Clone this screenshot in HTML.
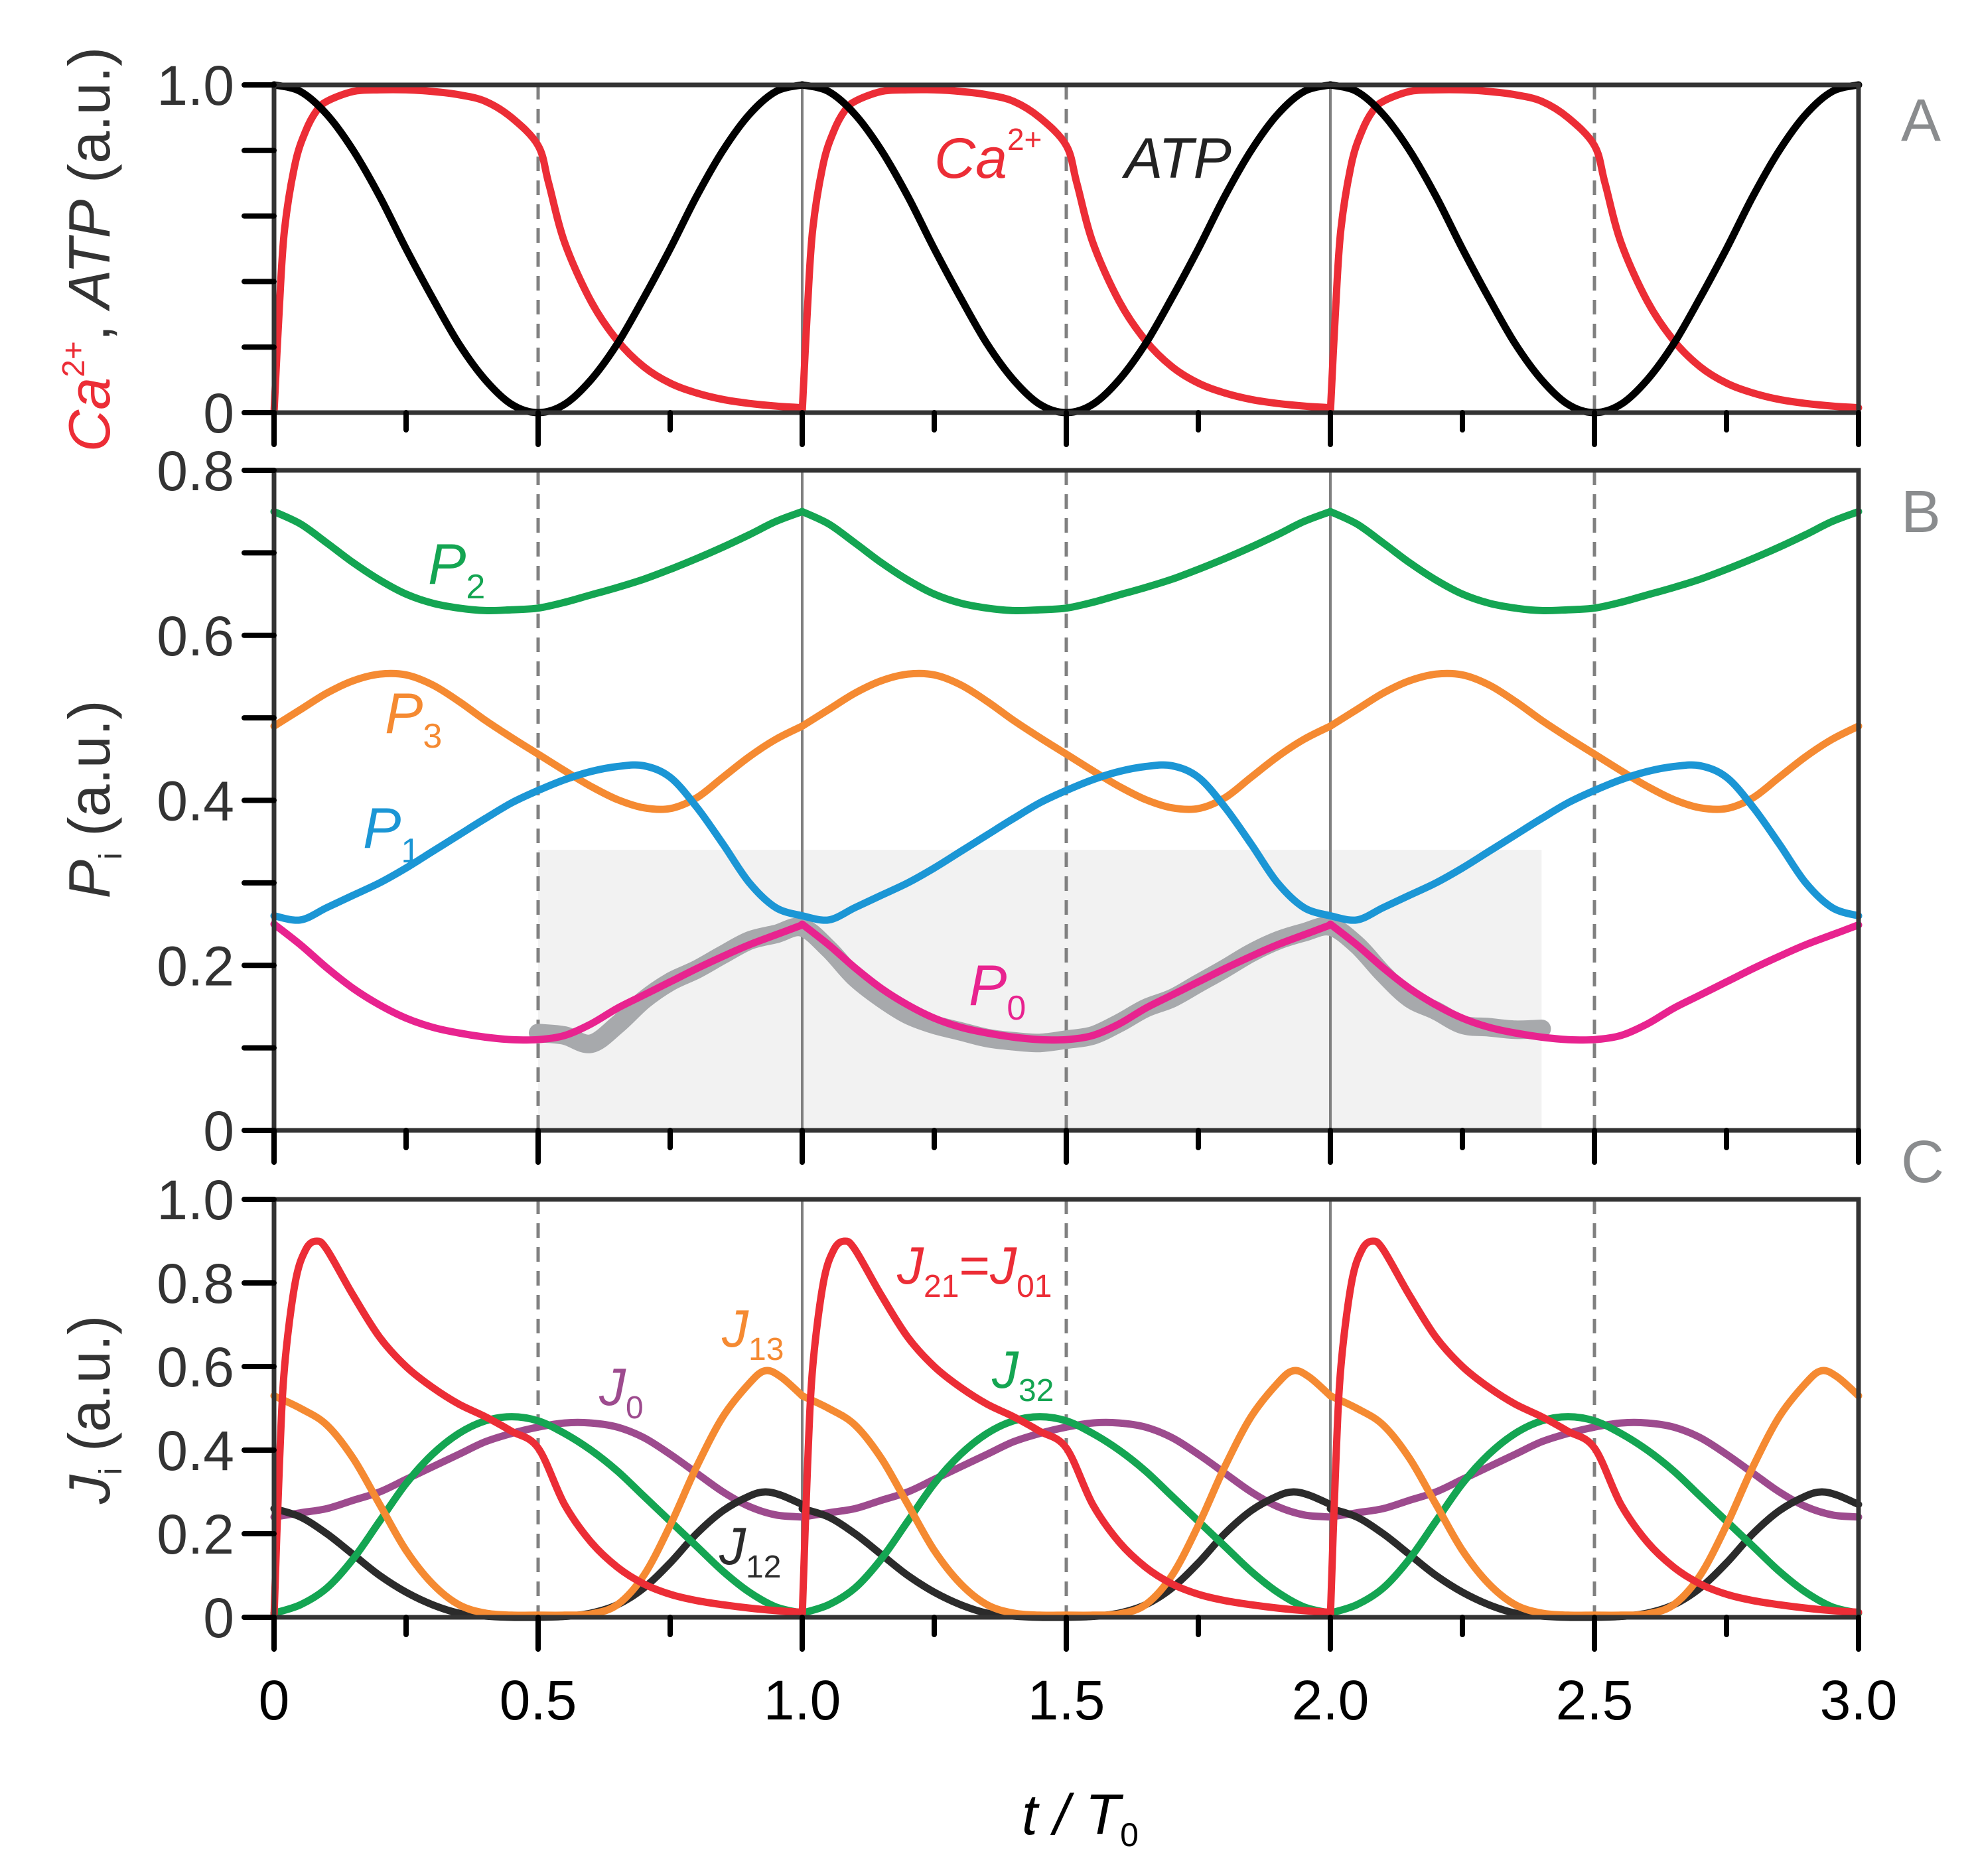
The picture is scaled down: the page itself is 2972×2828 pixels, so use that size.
<!DOCTYPE html>
<html><head><meta charset="utf-8">
<style>
html,body{margin:0;padding:0;background:#fff;}
svg{display:block;}
text{font-family:"Liberation Sans",Arial,sans-serif;}
</style></head>
<body>
<svg id="chart" width="2972" height="2828" viewBox="0 0 2972 2828" xmlns="http://www.w3.org/2000/svg"></svg>
<script>
// ---------- data (one period, repeated over 3 periods) ----------
const periods = [0, 1, 2];
const xTickLabels = ["0", "0.5", "1.0", "1.5", "2.0", "2.5", "3.0"];
const xTickValues = [0, 0.5, 1, 1.5, 2, 2.5, 3];
const tGrid = [0,.05,.1,.15,.2,.25,.3,.35,.4,.45,.5,.55,.6,.65,.7,.75,.8,.85,.9,.95,1];

const caT   = [0,.01,.02,.04,.06,.08,.1,.15,.2,.25,.3,.35,.4,.45,.5,.52,.55,.6,.65,.7,.75,.8,.85,.9,.95,1];
const caV   = [0,.32,.56,.76,.86,.92,.95,.98,.985,.985,.98,.97,.95,.9,.815,.7,.52,.34,.22,.14,.09,.06,.04,.028,.02,.015];
const atpV  = [1,.98,.91,.8,.66,.5,.35,.21,.1,.025,0,.025,.1,.21,.35,.5,.66,.8,.91,.98,1];

const p2V = [.75,.735,.712,.688,.667,.65,.639,.633,.63,.631,.633,.64,.649,.658,.668,.68,.693,.707,.722,.738,.75];
const p3V = [.49,.51,.53,.545,.553,.552,.54,.52,.497,.476,.456,.436,.417,.401,.391,.39,.403,.428,.453,.474,.49];
const p1V = [.26,.255,.27,.285,.3,.318,.338,.358,.378,.397,.412,.425,.435,.441,.442,.428,.392,.347,.3,.27,.26];
const p0V = [.25,.225,.197,.172,.152,.136,.125,.118,.113,.11,.11,.115,.129,.148,.164,.18,.196,.211,.225,.237,.249];

const expT = [.5,.55,.6,.65,.7,.75,.8,.85,.9,.95,1,1.05,1.1,1.15,1.2,1.25,1.3,1.35,1.4,1.45,1.5,1.55,1.6,1.65,1.7,1.75,1.8,1.85,1.9,1.95,2,2.05,2.1,2.15,2.2,2.25,2.3,2.35,2.4];
const expV = [.118,.115,.105,.128,.158,.18,.195,.213,.23,.238,.246,.22,.185,.16,.14,.128,.12,.112,.108,.106,.11,.115,.13,.148,.16,.178,.196,.215,.23,.24,.247,.225,.19,.16,.145,.128,.125,.122,.123];

const j21T = [0,.01,.02,.04,.06,.08,.1,.15,.2,.25,.3,.35,.4,.45,.5,.55,.6,.65,.7,.75,.8,.85,.9,.95,1];
const j21V = [0,.36,.6,.8,.88,.9,.88,.77,.67,.6,.55,.51,.48,.445,.405,.27,.18,.12,.08,.055,.04,.03,.022,.016,.012];
const j13T = [0,.05,.1,.15,.2,.25,.3,.35,.4,.45,.5,.55,.6,.65,.7,.75,.8,.85,.9,.93,.96,1];
const j13V = [.53,.5,.46,.38,.27,.16,.08,.03,.01,.005,.005,.005,.008,.03,.1,.22,.36,.48,.56,.59,.575,.53];
const j32V = [.01,.03,.07,.14,.23,.32,.39,.44,.47,.48,.47,.44,.4,.35,.29,.23,.17,.11,.06,.025,.01];
const j0V  = [.24,.25,.26,.28,.3,.33,.36,.39,.42,.44,.455,.465,.465,.455,.43,.39,.345,.3,.265,.245,.24];
const j12T = [0,.05,.1,.15,.2,.25,.3,.35,.4,.45,.5,.55,.6,.65,.7,.75,.8,.85,.9,.93,.96,1];
const j12V = [.26,.24,.2,.15,.1,.06,.03,.01,.003,0,0,.002,.01,.03,.07,.13,.2,.255,.29,.3,.292,.27];

// ---------- layout ----------
const NS = "http://www.w3.org/2000/svg";
const svg = document.getElementById("chart");
const X0 = 413, XU = 796;
const xs = t => X0 + t * XU;
const panels = {
  A: {top:128, bot:622, max:1.0},
  B: {top:709, bot:1704, max:0.8},
  C: {top:1808, bot:2438, max:1.0}
};
function ys(p, v){ const P = panels[p]; return P.bot - v / P.max * (P.bot - P.top); }
function mk(tag, attrs, parent){
  const e = document.createElementNS(NS, tag);
  for (const k in attrs) e.setAttribute(k, attrs[k]);
  (parent || svg).appendChild(e);
  return e;
}
function smoothPath(pts){
  let d = "M" + pts[0][0].toFixed(1) + "," + pts[0][1].toFixed(1);
  for (let i = 0; i < pts.length - 1; i++){
    const p0 = pts[i-1] || pts[i], p1 = pts[i], p2 = pts[i+1], p3 = pts[i+2] || p2;
    const c1 = [p1[0] + (p2[0]-p0[0])/6, p1[1] + (p2[1]-p0[1])/6];
    const c2 = [p2[0] - (p3[0]-p1[0])/6, p2[1] - (p3[1]-p1[1])/6];
    d += "C" + c1[0].toFixed(1)+","+c1[1].toFixed(1)+" "+c2[0].toFixed(1)+","+c2[1].toFixed(1)+" "+p2[0].toFixed(1)+","+p2[1].toFixed(1);
  }
  return d;
}
function drawSeries(p, tArr, vArr, color, name, width){
  periods.forEach(k => {
    const pts = tArr.map((t,i) => [xs(t + k), ys(p, vArr[i])]);
    const el = mk("path", {d: smoothPath(pts), fill:"none", stroke:color, "stroke-width":width||11, "stroke-linejoin":"round", "stroke-linecap":"round"});
    
    
  });
}

// ---------- shaded experiment region ----------
const shade = mk("rect", {x:xs(0.5), y:ys("B",0.34), width:xs(2.4)-xs(0.5), height:ys("B",0)-ys("B",0.34), fill:"#f2f2f2"});



// ---------- vertical reference lines ----------
["A","B","C"].forEach(p => {
  [0.5,1,1.5,2,2.5].forEach(t => {
    const dashed = (t % 1) !== 0;
    const l = mk("line", {x1:xs(t), x2:xs(t), y1:panels[p].top, y2:panels[p].bot, stroke:"#808080", "stroke-width":dashed ? 5 : 4, "stroke-dasharray": dashed ? "22,14" : "none"});
    
    
  });
});

// ---------- experimental data ----------
const expPts = expT.map((t,i) => [xs(t), ys("B", expV[i])]);
const ex = mk("path", {d: smoothPath(expPts), fill:"none", stroke:"#a7a9ac", "stroke-width":28, "stroke-linejoin":"round", "stroke-linecap":"round"});



// ---------- series ----------
drawSeries("A", caT, caV, "#ec2d36", "ca-line");
drawSeries("A", tGrid, atpV, "#000000", "atp-line");
drawSeries("B", tGrid, p2V, "#14a552", "p2-line");
drawSeries("B", tGrid, p3V, "#f58a32", "p3-line");
drawSeries("B", tGrid, p1V, "#1b96d5", "p1-line");
drawSeries("B", tGrid, p0V, "#e8238f", "p0-line");
drawSeries("C", tGrid, j0V, "#9d4b8e", "j0-line");
drawSeries("C", j12T, j12V, "#2b2b2b", "j12-line");
drawSeries("C", tGrid, j32V, "#14a552", "j32-line");
drawSeries("C", j13T, j13V, "#f58a32", "j13-line");
drawSeries("C", j21T, j21V, "#ec2d36", "j21-line");

// ---------- frames & ticks ----------
const yTicks = {A:[0,.2,.4,.6,.8,1], B:[0,.1,.2,.3,.4,.5,.6,.7,.8], C:[0,.2,.4,.6,.8,1]};
const yLabels = {A:{0:"0",1:"1.0"}, B:{0:"0",.2:"0.2",.4:"0.4",.6:"0.6",.8:"0.8"}, C:{0:"0",.2:"0.2",.4:"0.4",.6:"0.6",.8:"0.8",1:"1.0"}};
["A","B","C"].forEach(p => {
  const P = panels[p];
  const f = mk("rect", {x:X0, y:P.top, width:xs(3)-X0, height:P.bot-P.top, fill:"none", stroke:"#333", "stroke-width":7});
  
  
  yTicks[p].forEach(v => {
    const t = mk("line", {x1:X0-45, x2:X0, y1:ys(p,v), y2:ys(p,v), stroke:"#000", "stroke-width":8, "stroke-linecap":"round"});
    
    
    const lab = yLabels[p][v];
    if (lab !== undefined){
      const tx = mk("text", {x:X0-60, y:ys(p,v)+30, "text-anchor":"end", "font-size":84, fill:"#333"});
      tx.textContent = lab;
      
      
    }
  });
  for (let i = 0; i <= 12; i++){
    const t = i * 0.25, major = i % 2 === 0;
    const l = mk("line", {x1:xs(t), x2:xs(t), y1:P.bot, y2:P.bot + (major ? 48 : 26), stroke:"#000", "stroke-width":8, "stroke-linecap":"round"});
    
    
  }
});
xTickValues.forEach((v,i) => {
  const tx = mk("text", {x:xs(v), y:2592, "text-anchor":"middle", "font-size":84, fill:"#000"});
  tx.textContent = xTickLabels[i];
  
  
});
</script>
<svg width="2972" height="2828" style="position:absolute;left:0;top:0" xmlns="http://www.w3.org/2000/svg">
  <g font-family="Liberation Sans, Arial, sans-serif">
    <text x="1540" y="2765" font-size="86" font-style="italic" fill="#000">t / T<tspan font-size="50" font-style="normal" dy="18">0</tspan></text>
    <text transform="translate(165,376) rotate(-90)" text-anchor="middle" font-size="88" fill="#333"><tspan fill="#ec2d36" font-style="italic">Ca</tspan><tspan fill="#ec2d36" font-size="48" dy="-38">2+</tspan><tspan dy="38">, </tspan><tspan font-style="italic">ATP</tspan><tspan>  (a.u.)</tspan></text>
    <text transform="translate(165,1205) rotate(-90)" text-anchor="middle" font-size="88" fill="#333"><tspan font-style="italic">P</tspan><tspan font-size="48" dy="18">i</tspan><tspan dy="-18"> (a.u.)</tspan></text>
    <text transform="translate(165,2125) rotate(-90)" text-anchor="middle" font-size="88" fill="#333"><tspan font-style="italic">J</tspan><tspan font-size="48" dy="18">i</tspan><tspan dy="-18"> (a.u.)</tspan></text>
    <text x="2865" y="212" font-size="90" fill="#8a8c8e">A</text>
    <text x="2865" y="802" font-size="90" fill="#8a8c8e">B</text>
    <text x="2865" y="1782" font-size="90" fill="#8a8c8e">C</text>
    <text x="1408" y="268" font-size="86" font-style="italic" fill="#ec2d36">Ca<tspan font-size="46" font-style="normal" dy="-42">2+</tspan></text>
    <text x="1695" y="268" font-size="86" font-style="italic" fill="#222">ATP</text>
    <text x="645" y="880" font-size="86" font-style="italic" fill="#14a552">P<tspan font-size="52" font-style="normal" dy="22">2</tspan></text>
    <text x="580" y="1105" font-size="86" font-style="italic" fill="#f58a32">P<tspan font-size="52" font-style="normal" dy="22">3</tspan></text>
    <text x="547" y="1278" font-size="86" font-style="italic" fill="#1b96d5">P<tspan font-size="52" font-style="normal" dy="22">1</tspan></text>
    <text x="1460" y="1515" font-size="86" font-style="italic" fill="#e8238f">P<tspan font-size="52" font-style="normal" dy="22">0</tspan></text>
    <text x="1352" y="1935" font-size="80" font-style="italic" fill="#ec2d36">J<tspan font-size="48" font-style="normal" dy="20">21</tspan><tspan font-style="normal" dy="-20">=</tspan>J<tspan font-size="48" font-style="normal" dy="20">01</tspan></text>
    <text x="1088" y="2030" font-size="80" font-style="italic" fill="#f58a32">J<tspan font-size="48" font-style="normal" dy="20">13</tspan></text>
    <text x="903" y="2118" font-size="80" font-style="italic" fill="#9d4b8e">J<tspan font-size="48" font-style="normal" dy="20">0</tspan></text>
    <text x="1495" y="2092" font-size="80" font-style="italic" fill="#14a552">J<tspan font-size="48" font-style="normal" dy="20">32</tspan></text>
    <text x="1084" y="2358" font-size="80" font-style="italic" fill="#2b2b2b">J<tspan font-size="48" font-style="normal" dy="20">12</tspan></text>
  </g>
</svg>
</body></html>
